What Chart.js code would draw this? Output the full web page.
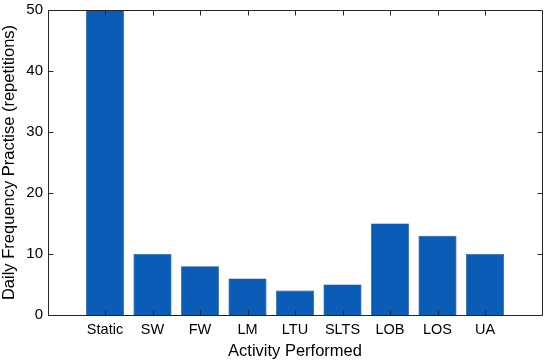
<!DOCTYPE html>
<html>
<head>
<meta charset="utf-8">
<script src="https://cdn.jsdelivr.net/npm/chart.js@4/dist/chart.umd.min.js"></script>
<style>
html,body{margin:0;padding:0;background:#fff;}
#wrap{width:550px;height:361px;position:relative;}
</style>
</head>
<body>
<div id="wrap"><canvas id="c" width="550" height="361"></canvas></div>
<script>
const categories = ["Static","SW","FW","LM","LTU","SLTS","LOB","LOS","UA"];
const frequency = [50, 10, 8, 6, 4, 5, 15, 13, 10];
const yTicks = [0, 10, 20, 30, 40, 50];

const FONT = '"Liberation Sans", Arial, Helvetica, sans-serif';
const AXIS_COLOR = '#262626';

const boxPlugin = {
  id: 'boxPlugin',
  afterDatasetsDraw(chart) {
    const {ctx, chartArea: a, scales} = chart;
    const x = scales.x, y = scales.y;
    const L = Math.round(a.left) + 0.5, R = Math.round(a.right) + 0.5;
    const T = Math.round(a.top) + 0.5, B = Math.round(a.bottom) + 0.5;
    ctx.save();
    ctx.strokeStyle = AXIS_COLOR;
    ctx.lineWidth = 1;
    ctx.beginPath();
    ctx.rect(L, T, R - L, B - T);
    ctx.stroke();
    const tl = 5;
    ctx.beginPath();
    categories.forEach((c, i) => {
      const px = Math.round(x.getPixelForValue(i + 1)) + 0.5;
      ctx.moveTo(px, B); ctx.lineTo(px, B - tl);
      ctx.moveTo(px, T); ctx.lineTo(px, T + tl);
    });
    yTicks.forEach(v => {
      const py = Math.round(y.getPixelForValue(v)) + 0.5;
      ctx.moveTo(L, py); ctx.lineTo(L + tl, py);
      ctx.moveTo(R, py); ctx.lineTo(R - tl, py);
    });
    ctx.stroke();
    ctx.restore();
  }
};

new Chart(document.getElementById('c'), {
  type: 'bar',
  data: {
    datasets: [{
      data: categories.map((c, i) => ({x: i + 1, y: frequency[i]})),
      backgroundColor: '#0b5cb6',
      borderColor: '#123f7c',
      borderWidth: 0.6,
      categoryPercentage: 1,
      barPercentage: 0.8
    }]
  },
  options: {
    responsive: false,
    animation: false,
    devicePixelRatio: 1,
    layout: {padding: {left: 0, right: 8, top: 10, bottom: 0}},
    plugins: {legend: {display: false}, tooltip: {enabled: false}},
    scales: {
      x: {
        type: 'linear',
        offset: false,
        min: -0.2, max: 10.2,
        grid: {display: false, drawTicks: false, offset: false},
        border: {display: false},
        afterBuildTicks(s) { s.ticks = categories.map((c, i) => ({value: i + 1})); },
        afterFit(s) { s.height = 46; s.paddingLeft = 0; s.paddingRight = 0; },
        ticks: {
          autoSkip: false, maxRotation: 0, padding: 6,
          color: '#000', font: {family: FONT, size: 14.5},
          callback: (v) => categories[Math.round(v) - 1] || ''
        },
        title: {
          display: true, text: 'Activity Performed',
          color: '#000', font: {family: FONT, size: 16.5},
          padding: {top: 0, bottom: 0}
        }
      },
      y: {
        min: 0, max: 50,
        grid: {display: false, drawTicks: false},
        border: {display: false},
        afterBuildTicks(s) { s.ticks = yTicks.map(v => ({value: v})); },
        afterFit(s) { s.width = 48; s.paddingTop = 0; s.paddingBottom = 0; },
        ticks: {
          padding: 5,
          color: '#000', font: {family: FONT, size: 15}
        },
        title: {
          display: true, text: 'Daily Frequency Practise (repetitions)',
          color: '#000', font: {family: FONT, size: 16.5},
          padding: {top: 0, bottom: 0}
        }
      }
    }
  },
  plugins: [boxPlugin]
});
</script>
</body>
</html>
